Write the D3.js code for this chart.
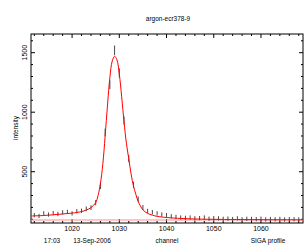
<!DOCTYPE html>
<html>
<head>
<meta charset="utf-8">
<script src="https://cdn.jsdelivr.net/npm/d3@7"></script>
<style>
body{margin:0;background:#fff}
text{font-family:"Liberation Sans",Arial,sans-serif;fill:#000}
</style>
</head>
<body>
<div id="chart"></div>
<script>
// data
var channels = d3.range(1012, 1069);
var counts = [135,128,150,140,152,145,158,162,150,168,172,188,198,240,380,830,1230,1520,1330,930,
  610,390,270,200,170,160,150,140,135,125,120,115,112,115,108,110,115,105,110,108,
  104,106,102,108,100,104,103,101,105,99,102,100,103,98,101,100,99];
var errs = [18,18,18,18,18,18,18,18,18,18,18,20,20,22,26,32,36,40,38,34,
  30,26,22,20,18,18,18,18,18,18,18,18,18,18,18,18,18,18,18,18,
  18,18,18,18,18,18,18,18,18,18,18,18,18,18,18,18,18];
var fitX = [1011.3,1014,1016,1018,1020,1022,1023,1024,1025,1025.5,1026,1026.5,1027,1027.5,1028,1028.5,1029,
  1029.5,1030,1030.5,1031,1031.5,1032,1032.5,1033,1033.5,1034,1035,1036,1037,1038,1040,1045,1050,1060,1068.9];
var fitY = [128,132,138,145,152,165,178,198,240,300,400,560,800,1060,1290,1430,1470,
  1440,1320,1130,920,740,610,480,380,310,250,180,150,135,125,115,104,100,97,96];
var baseline = 94;
var xTicks = [1020,1030,1040,1050,1060];
var yTicks = [500,1000,1500];
var footer = [["17:03",52],["13-Sep-2006",92],["channel",167],["SIGA profile",268]];

var W = 304, H = 245;
var svg = d3.select("#chart").append("svg").attr("width",W).attr("height",H);

var x = d3.scaleLinear().domain([1011.3,1068.9]).range([31,303]);
var y = d3.scaleLinear().domain([69,1657]).range([223,34]);

svg.append("text").attr("x",168).attr("y",21).attr("text-anchor","middle")
  .style("font-size","6.5px").text("argon-ecr378-9");

// frame
svg.append("rect").attr("x",31).attr("y",34).attr("width",272).attr("height",189)
  .style("fill","none").style("stroke","#000").style("stroke-width",1);

var g = svg.append("g");
var minorX = d3.range(1012,1069,2), minorY = d3.range(100,1700,100);

minorX.forEach(function(c){
  var big = c % 10 == 0, len = big ? 4 : 2;
  g.append("line").attr("x1",x(c)).attr("x2",x(c)).attr("y1",223).attr("y2",223-len).style("stroke","#000");
  g.append("line").attr("x1",x(c)).attr("x2",x(c)).attr("y1",34).attr("y2",34+len).style("stroke","#000");
});
minorY.forEach(function(v){
  var big = v % 500 == 0, len = big ? 4 : 2;
  g.append("line").attr("x1",31).attr("x2",31+len).attr("y1",y(v)).attr("y2",y(v)).style("stroke","#000");
  g.append("line").attr("x1",303).attr("x2",303-len).attr("y1",y(v)).attr("y2",y(v)).style("stroke","#000");
});

xTicks.forEach(function(c){
  svg.append("text").attr("x",x(c)).attr("y",231).attr("text-anchor","middle")
    .style("font-size","7px").text(c);
});
yTicks.forEach(function(v){
  svg.append("text").attr("transform","translate(27,"+y(v)+")rotate(-90)")
    .attr("text-anchor","middle").style("font-size","7px").text(v);
});
svg.append("text").attr("transform","translate(18,128)rotate(-90)")
  .attr("text-anchor","middle").style("font-size","6.5px").text("intensity");

footer.forEach(function(f){
  svg.append("text").attr("x",f[1]).attr("y",243).attr("text-anchor","middle")
    .style("font-size","6.5px").text(f[0]);
});

// baseline
svg.append("line").attr("x1",x(1011.3)).attr("x2",x(1068.9)).attr("y1",y(baseline)).attr("y2",y(baseline))
  .style("stroke","#ff8a8a").style("stroke-width",1.2);

// error bars
channels.forEach(function(c,i){
  svg.append("line").attr("x1",x(c)).attr("x2",x(c))
    .attr("y1",y(counts[i]-errs[i])).attr("y2",y(counts[i]+errs[i]))
    .style("stroke","#333").style("stroke-width",0.9);
});

// fit
var line = d3.line().x(function(d){return x(d[0])}).y(function(d){return y(d[1])}).curve(d3.curveCatmullRom);
svg.append("path").datum(fitX.map(function(c,i){return [c,fitY[i]]})).attr("d",line)
  .style("fill","none").style("stroke","#ff0000").style("stroke-width",1);
</script>
</body>
</html>
